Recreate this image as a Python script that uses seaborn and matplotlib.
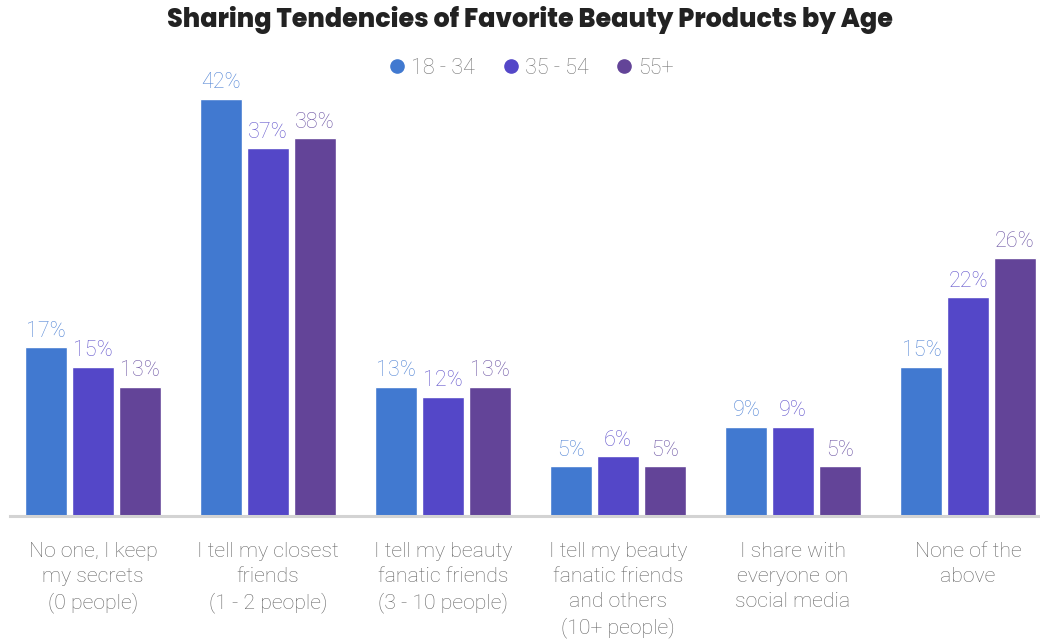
import matplotlib
matplotlib.use("Agg")
import matplotlib.pyplot as plt
from matplotlib.lines import Line2D
import seaborn as sns
import pandas as pd

categories = [
    "No one, I keep\nmy secrets\n(0 people)",
    "I tell my closest\nfriends\n(1 - 2 people)",
    "I tell my beauty\nfanatic friends\n(3 - 10 people)",
    "I tell my beauty\nfanatic friends\nand others\n(10+ people)",
    "I share with\neveryone on\nsocial media",
    "None of the\nabove",
]
age_groups = ["18 - 34", "35 - 54", "55+"]
values_18_34 = [17, 42, 13, 5, 9, 15]
values_35_54 = [15, 37, 12, 6, 9, 22]
values_55_plus = [13, 38, 13, 5, 5, 26]
colors = ["#4179D0", "#5447C8", "#634498"]
label_colors = ["#5587D6", "#6558CD", "#7059A6"]

rows = []
for grp, vals in zip(age_groups, [values_18_34, values_35_54, values_55_plus]):
    for cat, v in zip(categories, vals):
        rows.append({"category": cat, "age": grp, "share": v})
df = pd.DataFrame(rows)

sns.set_theme(style="white")
plt.rcParams["font.family"] = ["Roboto", "DejaVu Sans"]

W, H = 1040, 639
fig = plt.figure(figsize=(W / 100, H / 100), dpi=100)
ax = fig.add_axes([10 / W, (H - 516) / H, (1040 - 10) / W, (516 - 40) / H])

sns.barplot(data=df, x="category", y="share", hue="age", order=categories,
            hue_order=age_groups, palette=colors, width=0.8, gap=0.1,
            saturation=1, legend=False, ax=ax)

for container, lc in zip(ax.containers, label_colors):
    ax.bar_label(container, labels=[f"{v:.0f}%" for v in container.datavalues],
                 padding=4, color=lc, fontsize=15.5, fontweight="light")

ax.set_xlim(-0.474, 5.411)
ax.set_ylim(0, 47.9)
ax.set_xlabel("")
ax.set_ylabel("")
ax.set_yticks([])
ax.tick_params(axis="x", length=0, pad=19, labelsize=15.3, labelcolor="#666666")
for lbl in ax.get_xticklabels():
    lbl.set_linespacing(1.38)
    lbl.set_fontweight("light")
    lbl.set_verticalalignment("top")

for side in ["top", "left", "right"]:
    ax.spines[side].set_visible(False)
ax.spines["bottom"].set_color("#D3D3D3")
ax.spines["bottom"].set_linewidth(2.2)

fig.text(530 / W, 1 - 20 / H, "Sharing Tendencies of Favorite Beauty Products by Age",
         ha="center", va="center", fontsize=18.3, fontweight="heavy",
         family=["Poppins", "Inter", "DejaVu Sans"], color="#222222")

handles = [Line2D([], [], marker="o", linestyle="", markersize=9.5,
                  markerfacecolor=c, markeredgecolor=c) for c in colors]
fig.legend(handles, age_groups, loc="center", bbox_to_anchor=(530 / W, 1 - 68 / H),
           ncol=3, frameon=False, labelcolor="#777777",
           handletextpad=0.15, columnspacing=1.17, handlelength=1.0,
           prop={"family": "Roboto", "weight": "light", "size": 15.5})

fig.savefig("out.png", dpi=100)
